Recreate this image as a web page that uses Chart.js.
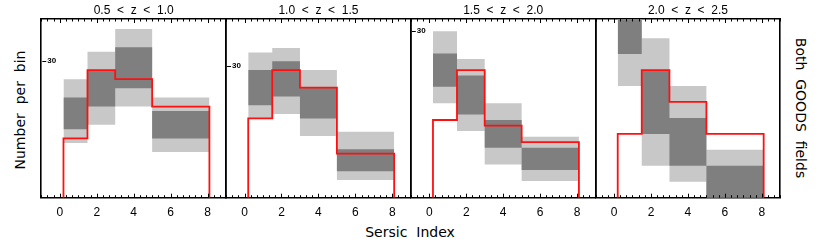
<!DOCTYPE html>
<html>
<head>
<meta charset="utf-8">
<script src="https://cdn.jsdelivr.net/npm/chart.js@4.4.1/dist/chart.umd.min.js"></script>
<style>
  body { margin: 0; background: #fff; }
  #page { position: relative; width: 830px; height: 242px; overflow: hidden; background: #fff; }
  canvas { position: absolute; top: 0; }
  .lab { position: absolute; font-family: "DejaVu Sans", sans-serif; font-size: 14px; line-height: 1;
         white-space: pre; color: #000; transform-origin: center; }
</style>
</head>
<body>
<div id="page">
  <div class="lab" id="ylab" style="left:20px;top:110px;transform:translate(-50%,-50%) rotate(-90deg)">Number  per  bin</div>
  <div class="lab" id="rlab" style="left:801px;top:108px;transform:translate(-50%,-50%) rotate(90deg)">Both  GOODS  fields</div>
  <div class="lab" id="xlab" style="left:410px;top:232px;transform:translate(-50%,-50%)">Sersic  Index</div>
</div>
<script>
// bins in Sersic index, same for all four redshift slices
const binEdges = [0.2, 1.5, 3.0, 5.0, 8.1]
const xTicks = [0, 2, 4, 6, 8]
const yTicks = [30]

const zTitles = ['0.5  <  z  <  1.0', '1.0  <  z  <  1.5', '1.5  <  z  <  2.0', '2.0  <  z  <  2.5']
const yMax = [39.2, 40.6, 32.2, 11.2]

// red histogram (model counts per bin)
const modelCounts = [[13, 28, 26, 20], [18, 29, 25, 10], [14, 23, 13, 10], [4, 8, 6, 4]]
// dark grey band (inner range)
const darkLo = [[15, 20, 24, 13], [21, 23, 18, 6], [20, 15, 9, 5], [9, 4, 2, 0]]
const darkHi = [[22, 28, 33, 19], [29, 31, 25, 11], [26, 22, 14, 9], [13, 8, 5, 2]]
// light grey band (outer range)
const lightLo = [[12, 16, 20, 10], [18, 19, 14, 4], [17, 12, 6, 3], [7, 2, 1, 0]]
const lightHi = [[26, 32, 37, 22], [33, 34, 29, 15], [30, 25, 17, 11], [15, 10, 7, 3]]

const panelLeft = [41.3, 226.05, 410.8, 595.55]
const panelWidth = 184.75
const plotTop = 19
const plotBottom = 197.7

Chart.defaults.font.family = '"Liberation Sans", Arial, sans-serif'
Chart.defaults.color = '#000'

function stepPoints(vals){
  return binEdges.map((e, i) => ({ x: e, y: vals[Math.min(i, vals.length - 1)] }))
}

function histPoints(vals){
  const last = binEdges[binEdges.length - 1]
  return [{ x: binEdges[0], y: 0 }, ...stepPoints(vals), { x: last, y: 0 }]
}

const inwardTicks = {
  id: 'inwardTicks',
  afterDraw(chart){
    const { ctx, chartArea: a, scales: { x, y } } = chart
    ctx.save()
    ctx.strokeStyle = '#000'
    ctx.lineWidth = 1
    const line = (x1, y1, x2, y2) => { ctx.beginPath(); ctx.moveTo(x1, y1); ctx.lineTo(x2, y2); ctx.stroke() }
    for(let k = 0; k <= 30; k++){
      const v = -1 + k / 3
      const px = Math.round(x.getPixelForValue(v)) + 0.5
      const major = xTicks.some((t) => Math.abs(t - v) < 1e-6)
      const len = major ? 4 : 2.5
      line(px, a.bottom, px, a.bottom - len)
      line(px, a.top, px, a.top + len)
    }
    y.ticks.forEach((t) => {
      const py = Math.round(y.getPixelForValue(t.value)) + 0.5
      line(a.left + 1, py, a.left + 5, py)
    })
    ctx.restore()
  }
}

const page = document.querySelector('#page')

zTitles.forEach((title, p) => {
  const canvas = document.createElement('canvas')
  const cLeft = Math.floor(panelLeft[p]) - 20
  const cWidth = Math.ceil(panelWidth) + 42
  canvas.width = cWidth
  canvas.height = 242
  canvas.style.left = cLeft + 'px'
  canvas.style.width = cWidth + 'px'
  canvas.style.height = '242px'
  page.appendChild(canvas)

  const padLeft = panelLeft[p] - cLeft
  const padRight = cWidth - (panelLeft[p] + panelWidth - cLeft)
  const border = { display: true, color: '#000', width: 1.6 }

  new Chart(canvas, {
    type: 'line',
    plugins: [inwardTicks],
    data: {
      datasets: [
        {
          data: histPoints(modelCounts[p]),
          stepped: true,
          borderColor: '#ff1010',
          borderWidth: 1.8,
          pointRadius: 0,
          fill: false,
        },
        {
          data: stepPoints(darkHi[p]),
          stepped: true,
          borderColor: 'rgba(0,0,0,0)',
          borderWidth: 0,
          pointRadius: 0,
          fill: false,
        },
        {
          data: stepPoints(darkLo[p]),
          stepped: true,
          borderColor: 'rgba(0,0,0,0)',
          borderWidth: 0,
          pointRadius: 0,
          backgroundColor: '#7f7f7f',
          fill: '-1',
        },
        {
          data: stepPoints(lightHi[p]),
          stepped: true,
          borderColor: 'rgba(0,0,0,0)',
          borderWidth: 0,
          pointRadius: 0,
          fill: false,
        },
        {
          data: stepPoints(lightLo[p]),
          stepped: true,
          borderColor: 'rgba(0,0,0,0)',
          borderWidth: 0,
          pointRadius: 0,
          backgroundColor: '#c8c8c8',
          fill: '-1',
        },
      ]
    },
    options: {
      responsive: false,
      animation: false,
      layout: {
        padding: { left: padLeft, right: padRight, top: 0, bottom: 0 }
      },
      scales: {
        x: {
          type: 'linear',
          position: 'bottom',
          min: -1,
          max: 9,
          grid: { display: false, drawTicks: false },
          border: border,
          afterBuildTicks: (s) => { s.ticks = xTicks.map((v) => ({ value: v })) },
          afterFit: (s) => { s.height = 242 - plotBottom },
          ticks: { font: { size: 12 }, padding: 8, maxRotation: 0, autoSkip: false },
        },
        x2: {
          type: 'linear',
          position: 'top',
          min: -1,
          max: 9,
          grid: { display: false, drawTicks: false },
          border: border,
          ticks: { display: false },
          afterFit: (s) => { s.height = 0 },
        },
        y: {
          type: 'linear',
          position: 'left',
          min: 0,
          max: yMax[p],
          grid: { display: false, drawTicks: false },
          border: border,
          afterBuildTicks: (s) => { s.ticks = yTicks.filter((v) => v <= yMax[p]).map((v) => ({ value: v })) },
          afterFit: (s) => { s.width = 0 },
          ticks: { mirror: true, padding: 6, font: { size: 8, weight: 'bold' } },
        },
        y2: {
          type: 'linear',
          position: 'right',
          min: 0,
          max: yMax[p],
          grid: { display: false, drawTicks: false },
          border: border,
          ticks: { display: false },
          afterFit: (s) => { s.width = 0 },
        },
      },
      plugins: {
        legend: { display: false },
        tooltip: { enabled: false },
        title: {
          display: true,
          text: title,
          font: { size: 12, weight: 'normal' },
          padding: { top: 3.5, bottom: plotTop - 3.5 - 14.4 },
        },
      },
    },
  })
})
</script>
</body>
</html>
